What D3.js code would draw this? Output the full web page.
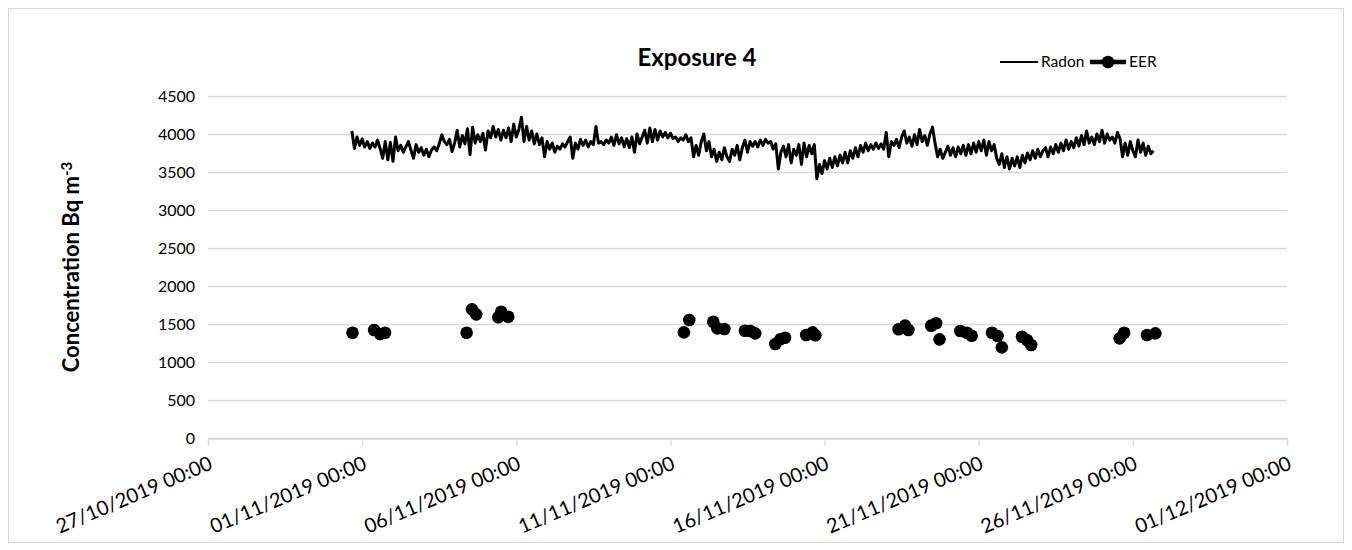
<!DOCTYPE html>
<html>
<head>
<meta charset="utf-8">
<script src="https://cdn.jsdelivr.net/npm/d3@7"></script>
<style>
  html, body { margin: 0; padding: 0; background: #fff; }
  svg { display: block; }
  text { font-family: Lato, "Noto Sans", sans-serif; fill: #000; }
</style>
</head>
<body>
<svg id="chart" width="1352" height="550"></svg>
<script>
// ---------------- data ----------------
const chartTitle = "Exposure 4";
const yTicks = [0, 500, 1000, 1500, 2000, 2500, 3000, 3500, 4000, 4500];
const xTickLabels = ["27/10/2019 00:00", "01/11/2019 00:00", "06/11/2019 00:00", "11/11/2019 00:00",
                     "16/11/2019 00:00", "21/11/2019 00:00", "26/11/2019 00:00", "01/12/2019 00:00"];
const seriesNames = ["Radon", "EER"];

// Radon: readings every 2 hours starting 31/10/2019 16:00
const radonStart = "31/10/2019 16:00";
const radonStepHours = 2;
const radonValues = [
  4040, 3810, 3960, 3850, 3935, 3830, 3900, 3810, 3880, 3830, 3920, 3810,
  3680, 3900, 3660, 3890, 3640, 3960, 3780, 3850, 3760, 3830, 3900, 3790,
  3680, 3860, 3760, 3820, 3720, 3800, 3700, 3790, 3830, 3780, 3870, 3990,
  3900, 3860, 3930, 3770, 3880, 4050, 3830, 3980, 3870, 4070, 3730, 4090,
  3880, 3990, 3900, 4010, 3790, 4040, 3950, 4100, 3960, 4060, 3920, 4050,
  3950, 4080, 3900, 4130, 3960, 4060, 4220, 3900, 4100, 3920, 4040, 3870,
  4000, 3860, 3950, 3700, 3900, 3800, 3880, 3760, 3840, 3800, 3870, 3830,
  3900, 3960, 3680, 3880, 3800, 3930, 3850, 3920, 3830, 3900, 3860, 4100,
  3880, 3900, 3860, 3920, 3880, 3960, 3850, 3990, 3870, 3950, 3830, 3940,
  3820, 3960, 3760, 4000, 3870, 3960, 4050, 3880, 4080, 3900, 4060, 3920,
  4040, 3960, 4020, 3950, 4010, 3940, 3960, 3900, 3950, 3920, 3990, 3900,
  3950, 3700, 3850, 3720, 3900, 4000, 3780, 3900, 3700, 3800, 3640, 3760,
  3660, 3820, 3700, 3640, 3800, 3720, 3850, 3660, 3820, 3920, 3760, 3900,
  3840, 3900, 3830, 3920, 3850, 3930, 3880, 3900, 3800, 3870, 3540, 3760,
  3840, 3700, 3860, 3620, 3800, 3720, 3860, 3600, 3880, 3700, 3850, 3740,
  3860, 3410, 3600, 3480, 3650, 3540, 3680, 3560, 3700, 3580, 3720, 3620,
  3760, 3620, 3780, 3680, 3820, 3700, 3850, 3760, 3880, 3780, 3860, 3800,
  3880, 3810, 3870, 3800, 4020, 3700, 3900, 3850, 3930, 3820, 3960, 4040,
  3880, 3960, 3840, 3990, 3860, 4060, 3900, 3980, 3850, 4000, 4090, 3880,
  3700, 3800, 3680, 3760, 3840, 3720, 3820, 3700, 3830, 3740, 3850, 3720,
  3860, 3740, 3880, 3760, 3900, 3780, 3920, 3720, 3900, 3780, 3860, 3680,
  3600, 3740, 3560, 3700, 3540, 3680, 3580, 3700, 3560, 3720, 3620, 3750,
  3660, 3780, 3680, 3800, 3700, 3780, 3820, 3700, 3830, 3740, 3860, 3760,
  3880, 3780, 3920, 3800, 3900, 3820, 3950, 3840, 3980, 3860, 4040, 3880,
  3960, 3860, 4000, 3900, 4050, 3880, 4000, 3920, 3960, 3880, 4020, 3940,
  3700, 3880, 3720, 3900, 3780, 3700, 3920, 3760, 3880, 3720, 3840, 3740,
  3780
];

// EER: isolated readings
const eerTimes = [
  "31/10/2019 16:30",
  "01/11/2019 09:20", "01/11/2019 14:00", "01/11/2019 17:50",
  "04/11/2019 09:20", "04/11/2019 13:30", "04/11/2019 16:50",
  "05/11/2019 10:00", "05/11/2019 12:15", "05/11/2019 17:45",
  "11/11/2019 10:30", "11/11/2019 14:40",
  "12/11/2019 09:20", "12/11/2019 12:30", "12/11/2019 18:00",
  "13/11/2019 10:00", "13/11/2019 14:10", "13/11/2019 18:00",
  "14/11/2019 09:40", "14/11/2019 13:30", "14/11/2019 17:15",
  "15/11/2019 09:40", "15/11/2019 14:40", "15/11/2019 16:50",
  "18/11/2019 09:40", "18/11/2019 14:40", "18/11/2019 17:15",
  "19/11/2019 11:00", "19/11/2019 14:50", "19/11/2019 17:30",
  "20/11/2019 09:40", "20/11/2019 14:50", "20/11/2019 18:30",
  "21/11/2019 10:20", "21/11/2019 14:40", "21/11/2019 18:00",
  "22/11/2019 09:40", "22/11/2019 13:30", "22/11/2019 16:50",
  "25/11/2019 13:40", "25/11/2019 17:15",
  "26/11/2019 11:00", "26/11/2019 17:30"
];
const eerValues = [
  1385,
  1421, 1368, 1385,
  1385, 1693, 1627,
  1588, 1662, 1596,
  1390, 1553,
  1530, 1443, 1434,
  1412, 1408, 1377,
  1237, 1298, 1320,
  1355, 1390, 1351,
  1430, 1478, 1421,
  1478, 1509, 1298,
  1408, 1385, 1346,
  1385, 1342, 1193,
  1333, 1289, 1224,
  1311, 1385,
  1355, 1377
];

// ---------------- drawing ----------------
const parse = d3.timeParse("%d/%m/%Y %H:%M");
const svg = d3.select("#chart");

const plot = { left: 208, right: 1287, top: 96, bottom: 438 };

const x = d3.scaleTime()
  .domain([parse(xTickLabels[0]), parse(xTickLabels[xTickLabels.length - 1])])
  .range([plot.left, plot.right]);
const y = d3.scaleLinear()
  .domain([0, 4500])
  .range([plot.bottom, plot.top]);

// outer border
svg.append("rect")
  .attr("x", 8.5).attr("y", 8.5).attr("width", 1335).attr("height", 534)
  .attr("fill", "none").attr("stroke", "#d9d9d9").attr("stroke-width", 1);

// gridlines
svg.append("g")
  .selectAll("line")
  .data(yTicks)
  .join("line")
  .attr("x1", plot.left).attr("x2", plot.right)
  .attr("y1", d => Math.round(y(d)) + 0.5).attr("y2", d => Math.round(y(d)) + 0.5)
  .attr("stroke", "#d9d9d9").attr("stroke-width", 1.3);

// y axis labels
const yAxis = d3.axisLeft(y).tickValues(yTicks).tickSize(0).tickPadding(0).tickFormat(d3.format("d"));
const gy = svg.append("g").attr("transform", `translate(${plot.left - 13},0)`).call(yAxis);
gy.select(".domain").remove();
gy.selectAll("text").style("font-size", "16px").style("font-family", "Lato, sans-serif").attr("fill", "#000");

// x axis
const xTickDates = xTickLabels.map(parse);
const xAxis = d3.axisBottom(x).tickValues(xTickDates).tickSize(7).tickFormat("");
const gx = svg.append("g").attr("transform", `translate(0,${Math.round(plot.bottom) + 0.5})`).call(xAxis);
gx.select(".domain").attr("stroke", "#d9d9d9").attr("stroke-width", 1.3);
gx.selectAll(".tick line").attr("stroke", "#d9d9d9").attr("stroke-width", 1.3);

svg.append("g")
  .selectAll("text")
  .data(xTickLabels)
  .join("text")
  .attr("transform", d => `translate(${x(parse(d)) + 3},${plot.bottom + 24}) rotate(-23)`)
  .attr("text-anchor", "end")
  .attr("dy", "0.35em")
  .style("font-size", "20px")
  .text(d => d);

// Radon line
const radonT0 = parse(radonStart);
const radonData = radonValues.map((v, i) => ({ t: d3.timeHour.offset(radonT0, i * radonStepHours), v }));
const line = d3.line().x(d => x(d.t)).y(d => y(d.v));
svg.append("path")
  .datum(radonData)
  .attr("d", line)
  .attr("fill", "none")
  .attr("stroke", "#000")
  .attr("stroke-width", 3)
  .attr("stroke-linejoin", "round");

// EER markers
const eerData = eerTimes.map((t, i) => ({ t: parse(t), v: eerValues[i] }));
svg.append("g")
  .selectAll("circle")
  .data(eerData)
  .join("circle")
  .attr("cx", d => x(d.t))
  .attr("cy", d => y(d.v))
  .attr("r", 6.3)
  .attr("fill", "#000");

// title
svg.append("text")
  .attr("x", 697).attr("y", 66)
  .attr("text-anchor", "middle")
  .style("font-size", "24px").style("font-weight", "bold")
  .text(chartTitle);

// y axis title
const yTitle = svg.append("text")
  .attr("transform", `translate(79,${(plot.top + plot.bottom) / 2}) rotate(-90)`)
  .attr("text-anchor", "middle")
  .style("font-size", "22px").style("font-weight", "bold");
yTitle.append("tspan").text("Concentration Bq m");
yTitle.append("tspan").attr("dy", "-0.45em").style("font-size", "15px").text("-3");

// legend
const lg = svg.append("g");
lg.append("line").attr("x1", 1000).attr("x2", 1038).attr("y1", 62).attr("y2", 62)
  .attr("stroke", "#000").attr("stroke-width", 2.2);
lg.append("text").attr("x", 1041).attr("y", 62).attr("dy", "0.35em")
  .style("font-size", "15.5px").text(seriesNames[0]);
lg.append("line").attr("x1", 1090).attr("x2", 1126).attr("y1", 62).attr("y2", 62)
  .attr("stroke", "#000").attr("stroke-width", 4.5);
lg.append("circle").attr("cx", 1108).attr("cy", 62).attr("r", 6.3).attr("fill", "#000");
lg.append("text").attr("x", 1129).attr("y", 62).attr("dy", "0.35em")
  .style("font-size", "15.5px").text(seriesNames[1]);
</script>
</body>
</html>
